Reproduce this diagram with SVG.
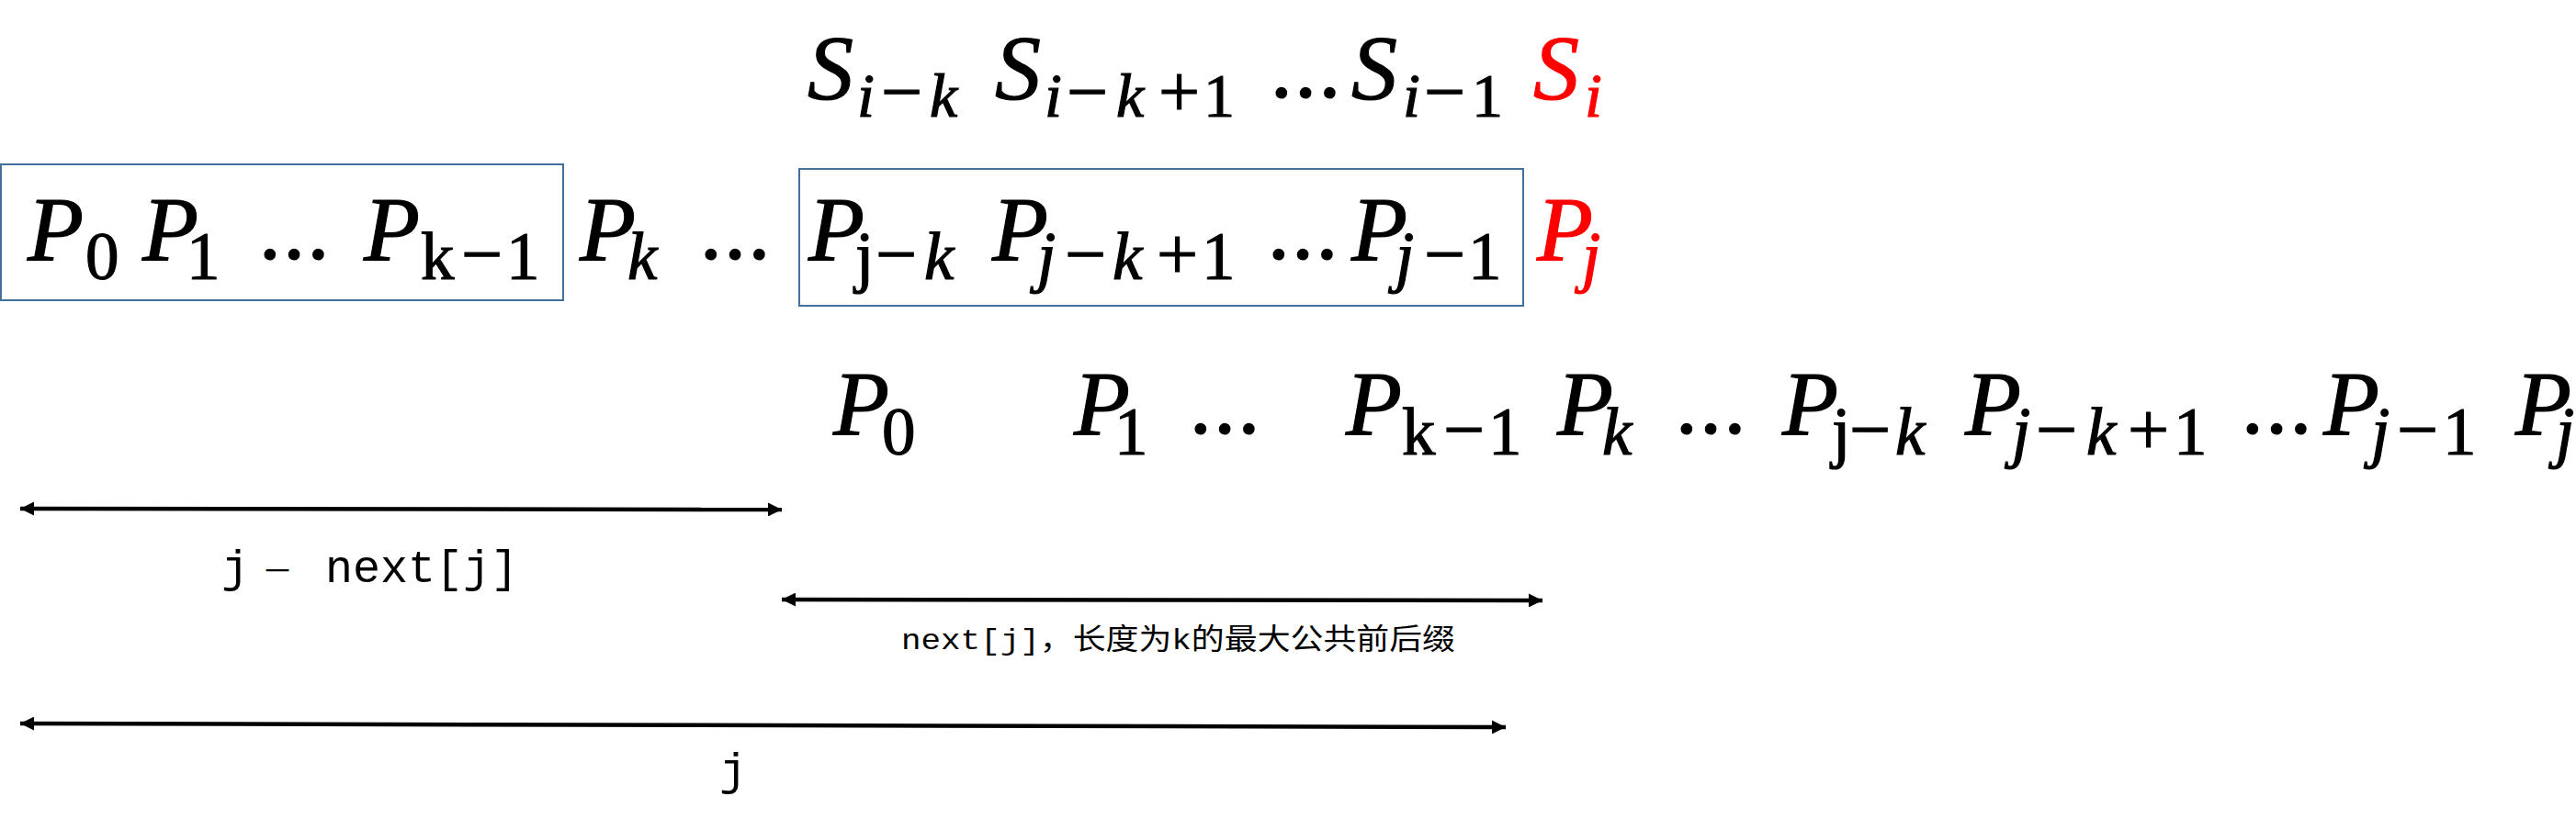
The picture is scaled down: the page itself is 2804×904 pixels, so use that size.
<svg xmlns="http://www.w3.org/2000/svg" width="2804" height="904" viewBox="0 0 2804 904">
<defs>
<style>
.m{font-family:"Liberation Serif",serif;font-size:100px;font-style:italic;fill:#000;stroke:#000;stroke-width:1.2}
.r{font-style:normal}
.s1{font-size:68px}
.s2{font-size:73px}
.op{font-size:80px;font-style:normal}
.red{fill:#FF0000;stroke:#FF0000}
.dots{font-family:"Liberation Serif",serif;font-size:78px;font-weight:bold;fill:#000;text-anchor:middle}
.box{fill:none;stroke:#41719C;stroke-width:2}
.arr{stroke:#000;stroke-width:4.5;fill:none;marker-start:url(#ah);marker-end:url(#ah)}
.lbl{font-family:"Liberation Mono","Noto Sans CJK SC",monospace;font-size:50px;fill:#000}
.lbl2{font-family:"Liberation Mono","Noto Sans CJK SC",monospace;font-size:32px;fill:#000}
</style>
<marker id="ah" viewBox="0 0 15 15" refX="15" refY="7.5" markerWidth="15" markerHeight="15" markerUnits="userSpaceOnUse" orient="auto-start-reverse">
<path d="M0,0 L15,7.5 L0,15 Z" fill="#000"/>
</marker>
</defs>
<rect width="2804" height="904" fill="#fff"/>

<g id="row-s">
<text class="m" y="107"><tspan x="879">S</tspan><tspan class="s1" x="933" y="127">i</tspan><tspan class="op" x="959" y="127">−</tspan><tspan class="s1" x="1012" y="127">k</tspan></text>
<text class="m" y="107"><tspan x="1083">S</tspan><tspan class="s1" x="1137" y="127">i</tspan><tspan class="op" x="1161" y="127">−</tspan><tspan class="s1" x="1215" y="127">k</tspan><tspan class="op" x="1261" y="127">+</tspan><tspan class="s1 r" x="1310" y="127">1</tspan></text>
<text class="dots" x="1421" y="107">…</text>
<text class="m" y="107"><tspan x="1471">S</tspan><tspan class="s1" x="1527" y="127">i</tspan><tspan class="op" x="1550" y="127">−</tspan><tspan class="s1 r" x="1602" y="127">1</tspan></text>
<text class="m red" y="107"><tspan x="1669">S</tspan><tspan class="s1" x="1725" y="127">i</tspan></text>
</g>

<g id="box-prefix">
<rect class="box" x="1" y="179" width="612" height="148"/>
<text class="m" y="283"><tspan x="30">P</tspan><tspan class="s2 r" x="93" y="304">0</tspan></text>
<text class="m" y="283"><tspan x="155">P</tspan><tspan class="s2 r" x="203" y="304">1</tspan></text>
<text class="dots" x="320" y="283">…</text>
<text class="m" y="283"><tspan x="396">P</tspan><tspan class="s2 r" x="458" y="304">k</tspan><tspan class="op" x="502" y="304">−</tspan><tspan class="s2 r" x="551" y="304">1</tspan></text>
</g>

<g id="row-p-mid">
<text class="m" y="283"><tspan x="631">P</tspan><tspan class="s2" x="683" y="304">k</tspan></text>
<text class="dots" x="800" y="283">…</text>
</g>

<g id="box-suffix">
<rect class="box" x="870" y="184" width="788" height="149"/>
<text class="m" y="283"><tspan x="880">P</tspan><tspan class="s2 r" x="931" y="304">j</tspan><tspan class="op" x="953" y="304">−</tspan><tspan class="s2" x="1006" y="304">k</tspan></text>
<text class="m" y="283"><tspan x="1080">P</tspan><tspan class="s2" x="1129" y="304">j</tspan><tspan class="op" x="1159" y="304">−</tspan><tspan class="s2" x="1211" y="304">k</tspan><tspan class="op" x="1259" y="304">+</tspan><tspan class="s2 r" x="1308" y="304">1</tspan></text>
<text class="dots" x="1418" y="283">…</text>
<text class="m" y="283"><tspan x="1471">P</tspan><tspan class="s2" x="1519" y="304">j</tspan><tspan class="op" x="1550" y="304">−</tspan><tspan class="s2 r" x="1598" y="304">1</tspan></text>
</g>

<g id="p-j-red">
<text class="m red" y="283"><tspan x="1673">P</tspan><tspan class="s2" x="1722" y="304">j</tspan></text>
</g>

<g id="row-p-shifted">
<text class="m" y="473"><tspan x="907">P</tspan><tspan class="s2 r" x="960" y="495">0</tspan></text>
<text class="m" y="473"><tspan x="1169">P</tspan><tspan class="s2 r" x="1213" y="495">1</tspan></text>
<text class="dots" x="1333" y="473">…</text>
<text class="m" y="473"><tspan x="1465">P</tspan><tspan class="s2 r" x="1526" y="495">k</tspan><tspan class="op" x="1571" y="495">−</tspan><tspan class="s2 r" x="1620" y="495">1</tspan></text>
<text class="m" y="473"><tspan x="1695">P</tspan><tspan class="s2" x="1744" y="495">k</tspan></text>
<text class="dots" x="1862" y="473">…</text>
<text class="m" y="473"><tspan x="1940">P</tspan><tspan class="s2 r" x="1994" y="495">j</tspan><tspan class="op" x="2013" y="495">−</tspan><tspan class="s2" x="2063" y="495">k</tspan></text>
<text class="m" y="473"><tspan x="2139">P</tspan><tspan class="s2" x="2190" y="495">j</tspan><tspan class="op" x="2216" y="495">−</tspan><tspan class="s2" x="2271" y="495">k</tspan><tspan class="op" x="2316" y="495">+</tspan><tspan class="s2 r" x="2366" y="495">1</tspan></text>
<text class="dots" x="2478" y="473">…</text>
<text class="m" y="473"><tspan x="2529">P</tspan><tspan class="s2" x="2581" y="495">j</tspan><tspan class="op" x="2609" y="495">−</tspan><tspan class="s2 r" x="2659" y="495">1</tspan></text>
<text class="m" y="473"><tspan x="2738">P</tspan><tspan class="s2" x="2782" y="495">j</tspan></text>
</g>

<g id="connectors">
<line class="arr" x1="22" y1="554" x2="851" y2="555"/>
<line class="arr" x1="851" y1="653" x2="1679" y2="654"/>
<line class="arr" x1="22" y1="788" x2="1639" y2="792"/>
</g>

<g id="labels">
<text class="lbl" y="634" xml:space="preserve"><tspan x="241">j</tspan><tspan x="285" font-size="34">－</tspan><tspan x="324"> next[j]</tspan></text>
<text class="lbl2" x="981" y="707" textLength="603" lengthAdjust="spacingAndGlyphs">next[j]，长度为k的最大公共前后缀</text>
<text class="lbl" x="783" y="855">j</text>
</g>
</svg>
